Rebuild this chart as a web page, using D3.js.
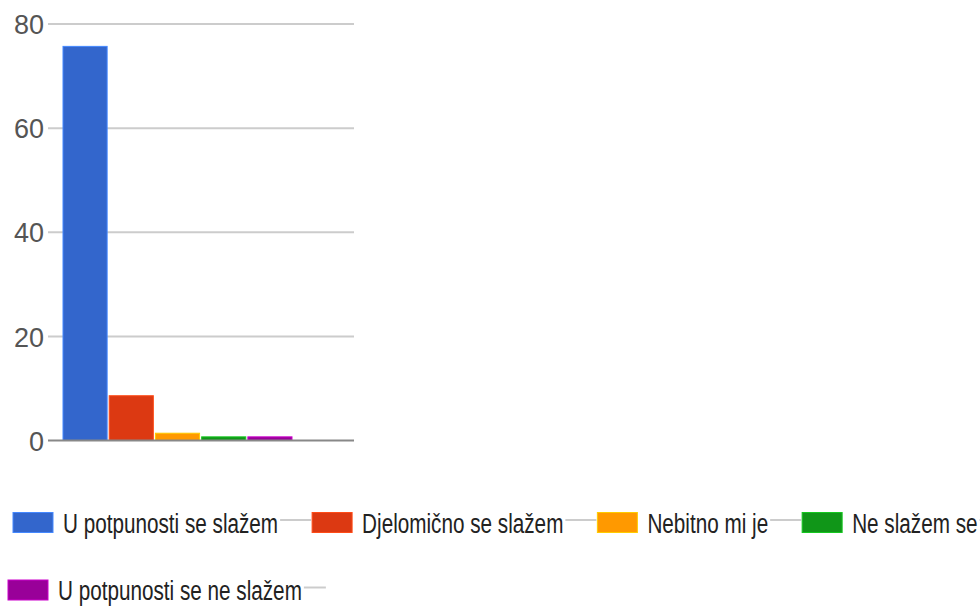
<!DOCTYPE html>
<html>
<head>
<meta charset="utf-8">
<script src="https://cdn.jsdelivr.net/npm/d3@7"></script>
<style>
html,body{margin:0;padding:0;background:#fff;}
svg{display:block;}
</style>
</head>
<body>
<svg id="chart" width="980" height="606"></svg>
<script>
const seriesNames = ["U potpunosti se slažem", "Djelomično se slažem", "Nebitno mi je", "Ne slažem se", "U potpunosti se ne slažem"];
const seriesValues = [75.7, 8.6, 1.4, 0.7, 0.7];
const seriesColors = ["#3366cc", "#dc3912", "#ff9900", "#109618", "#990099"];
const yTicks = [0, 20, 40, 60, 80];

const svg = d3.select("#chart");
svg.append("rect").attr("width", 980).attr("height", 606).attr("fill", "#fff");

const plotLeft = 48, plotRight = 354;
const y = d3.scaleLinear().domain([0, 80]).range([440.5, 24]);
const x = d3.scaleBand().domain(seriesNames).range([63, 292]).paddingInner(0.045);

// gridlines
svg.append("g").selectAll("line").data(yTicks.filter(d => d !== 0)).join("line")
  .attr("x1", plotLeft).attr("x2", plotRight)
  .attr("y1", d => y(d)).attr("y2", d => y(d))
  .attr("stroke", "#cccccc").attr("stroke-width", 2);

// y axis labels
const yAxis = d3.axisLeft(y).tickValues(yTicks).tickSize(0).tickPadding(0).tickFormat(d3.format("d"));
const yg = svg.append("g").attr("transform", "translate(44,0)").call(yAxis);
yg.select(".domain").remove();
yg.selectAll("text")
  .attr("font-family", "'Liberation Sans', Arial, sans-serif")
  .attr("font-size", 27)
  .attr("fill", "#555")
  .attr("dy", "0.36em");

// bars
const c = (col, k) => d3.color(col).brighter(k).formatHex();
svg.append("g").selectAll("rect").data(seriesNames).join("rect")
  .attr("x", d => x(d))
  .attr("y", (d, i) => y(seriesValues[i]))
  .attr("width", x.bandwidth())
  .attr("height", (d, i) => y(0) - y(seriesValues[i]))
  .attr("fill", (d, i) => seriesColors[i])
  .attr("stroke", (d, i) => c(seriesColors[i], 0.8))
  .attr("stroke-width", 1);

// baseline
svg.append("line")
  .attr("x1", plotLeft).attr("x2", plotRight)
  .attr("y1", y(0)).attr("y2", y(0))
  .attr("stroke", "#888").attr("stroke-width", 2);

// legend
const legendRows = [
  {items: [0, 1, 2, 3], x0: 13, base: 532.5, tail: 60},
  {items: [4], x0: 8, base: 600, tail: 24}
];
const lg = svg.append("g");
legendRows.forEach(row => {
  let xpos = row.x0;
  row.items.forEach((idx, k) => {
    lg.append("rect")
      .attr("x", xpos).attr("y", row.base - 20)
      .attr("width", 40).attr("height", 20)
      .attr("fill", seriesColors[idx])
      .attr("stroke", c(seriesColors[idx], 0.8)).attr("stroke-width", 1);
    const t = lg.append("text")
      .attr("transform", `translate(${xpos + 50},${row.base}) scale(1,1.3)`)
      .attr("font-family", "'Liberation Sans', Arial, sans-serif")
      .attr("font-size", 20.7)
      .attr("fill", "#222")
      .text(seriesNames[idx]);
    const w = t.node().getComputedTextLength();
    const tEnd = xpos + 50 + w;
    const isLast = k === row.items.length - 1;
    const lineEnd = isLast ? tEnd + row.tail : tEnd + 33;
    lg.insert("line", "text")
      .attr("x1", tEnd + 2).attr("x2", lineEnd)
      .attr("y1", row.base - 12.5).attr("y2", row.base - 12.5)
      .attr("stroke", "#cccccc").attr("stroke-width", 2);
    xpos = tEnd + 34;
  });
});
</script>
</body>
</html>
